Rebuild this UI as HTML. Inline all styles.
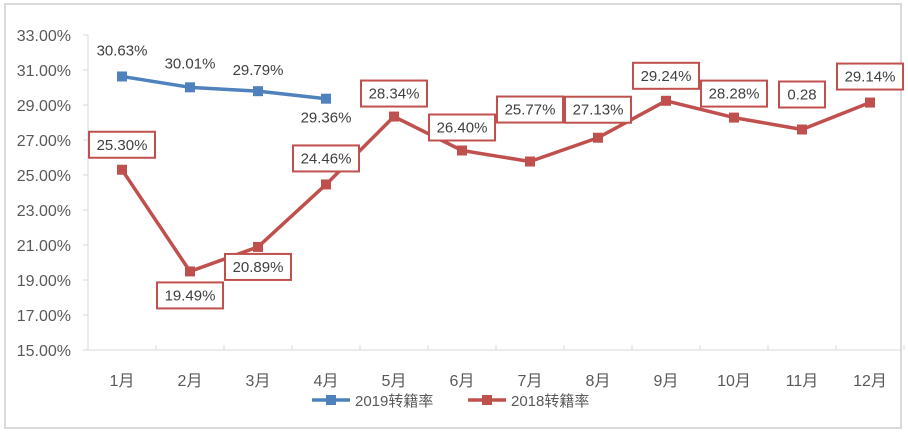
<!DOCTYPE html>
<html><head><meta charset="utf-8"><style>
body{margin:0;background:#fff}
svg{display:block;font-family:"Liberation Sans","Noto Sans CJK SC",sans-serif}
</style></head><body>
<svg id="c" width="908" height="437">
<rect x="5" y="4" width="896" height="424" fill="#fff" stroke="#d9d9d9" stroke-width="2"/>
<g id="g"></g>
</svg>
<script>
const categories=["1月","2月","3月","4月","5月","6月","7月","8月","9月","10月","11月","12月"];
const s2019=[30.63,30.01,29.79,29.36];
const s2018=[25.30,19.49,20.89,24.46,28.34,26.40,25.77,27.13,29.24,28.28,27.60,29.14];
const labels2018=["25.30%","19.49%","20.89%","24.46%","28.34%","26.40%","25.77%","27.13%","29.24%","28.28%","0.28","29.14%"];
const yTicks=[15,17,19,21,23,25,27,29,31,33];
const NS="http://www.w3.org/2000/svg";
const g=document.getElementById('g');
const x=i=>122+68*i;
const y=v=>35+(33-v)*17.5;
function mk(t,a,p){const e=document.createElementNS(NS,t);for(const k in a)e.setAttribute(k,a[k]);(p||g).appendChild(e);return e;}
yTicks.forEach(t=>{const e=mk('text',{x:71,y:y(t)+6,'text-anchor':'end','font-size':16,fill:'#595959'});e.textContent=t.toFixed(2)+'%';


const l=mk('line',{x1:83,x2:88,y1:y(t),y2:y(t),stroke:'#d9d9d9'});

});
const ya=mk('line',{x1:88,x2:88,y1:35,y2:350,stroke:'#d9d9d9'});


const xa=mk('line',{x1:88,x2:901,y1:350,y2:350,stroke:'#d9d9d9'});


categories.forEach((c,i)=>{const e=mk('text',{x:x(i),y:386,'text-anchor':'middle','font-size':16,fill:'#595959'});e.textContent=c;


const l=mk('line',{x1:88+68*(i+1),x2:88+68*(i+1),y1:345,y2:350,stroke:'#d9d9d9'});

});
function series(data,color,name){
 const p=mk('polyline',{points:data.map((v,i)=>x(i)+','+y(v)).join(' '),fill:'none',stroke:color,'stroke-width':3.5,'stroke-linejoin':'round'});
 
 
 data.forEach((v,i)=>{const r=mk('rect',{x:x(i)-5,y:y(v)-5,width:10,height:10,fill:color});
 
 });
}
series(s2018,'#c0504d','series-2018');
series(s2019,'#4f81bd','series-2019');
const off19=[-26,-24,-21,19];
s2019.forEach((v,i)=>{const t=mk('text',{x:x(i),y:y(v)+off19[i]+5,'text-anchor':'middle','font-size':15,fill:'#404040'});t.textContent=v.toFixed(2)+'%';

});
const off18=[-25,24,20,-26,-23,-23,-52,-28,-25,-24,-35,-26];
s2018.forEach((v,i)=>{const cy=y(v)+off18[i];const w=labels2018[i].length>4?66:46;
 const r=mk('rect',{x:x(i)-w/2,y:cy-13,width:w,height:26,fill:'#fff',stroke:'#c0504d','stroke-width':2});
 
 
 const t=mk('text',{x:x(i),y:cy+5,'text-anchor':'middle','font-size':15,fill:'#404040'});t.textContent=labels2018[i];
 
 });
[[312,'#4f81bd','2019转籍率'],[468,'#c0504d','2018转籍率']].forEach(([lx,c,n])=>{
 const l=mk('line',{x1:lx,x2:lx+38,y1:400,y2:400,stroke:c,'stroke-width':3.5});
 
 
 const r=mk('rect',{x:lx+14,y:395,width:10,height:10,fill:c});
 
 
 const t=mk('text',{x:lx+43,y:406,'font-size':15,fill:'#595959'});t.textContent=n;
 
 });
</script>
</body></html>
